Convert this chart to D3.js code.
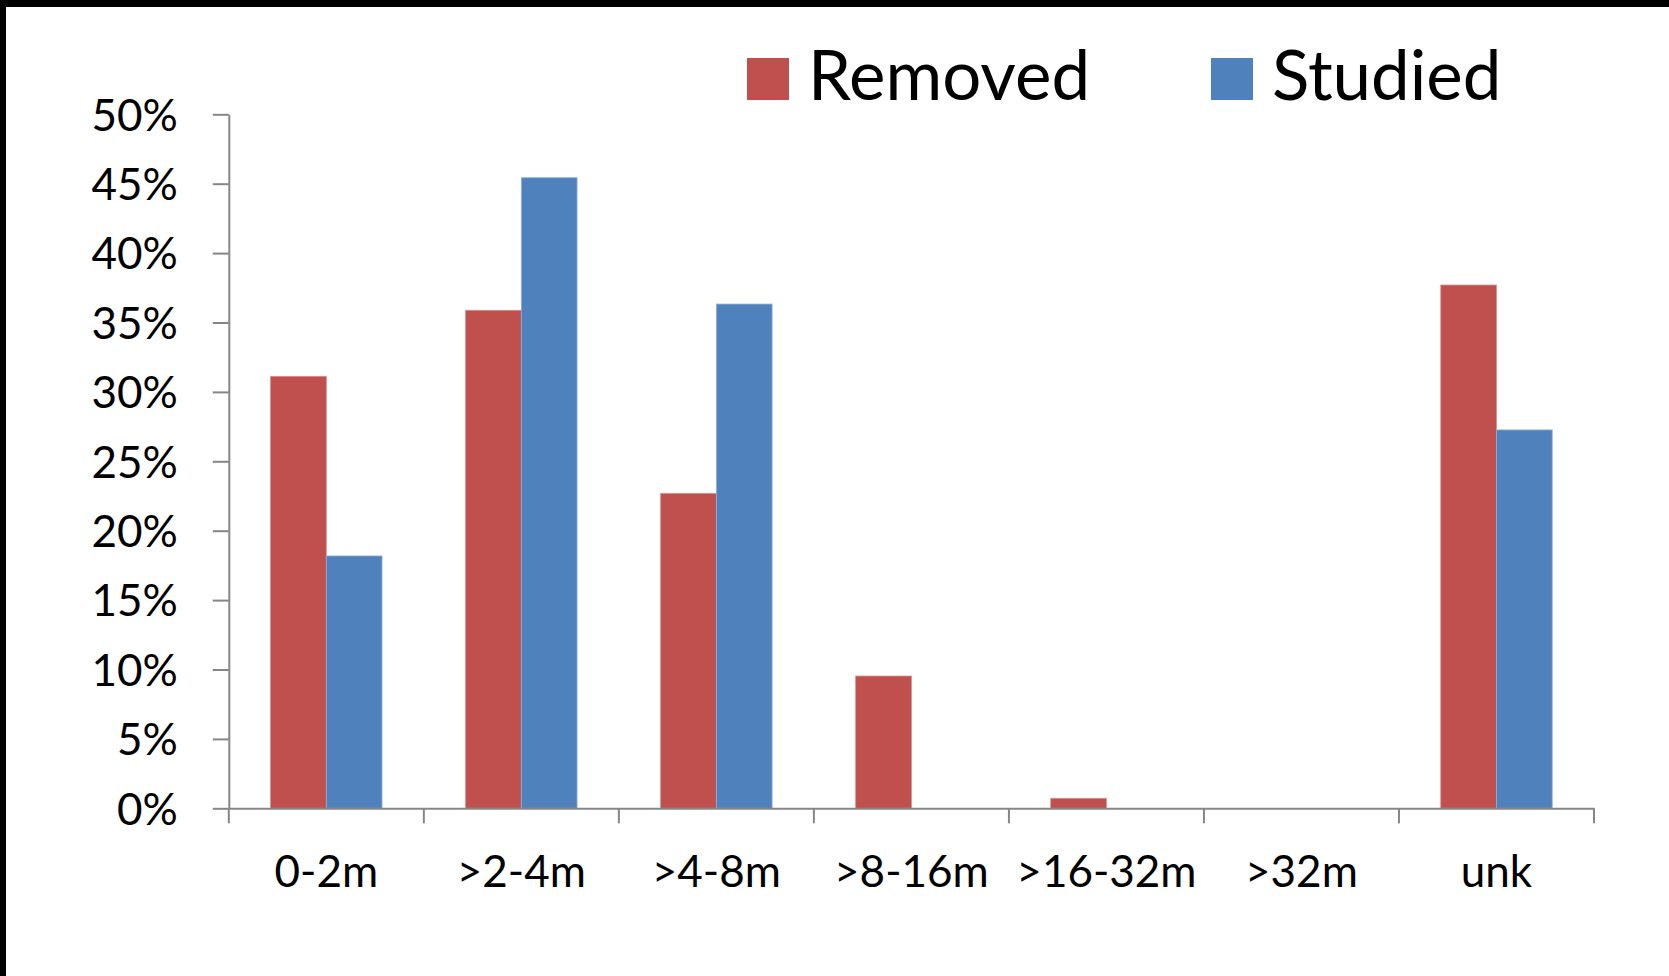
<!DOCTYPE html>
<html>
<head>
<meta charset="utf-8">
<script src="https://cdn.jsdelivr.net/npm/d3@7/dist/d3.min.js"></script>
<style>
  html, body { margin: 0; padding: 0; background: #fff; }
  svg { display: block; }
  svg text { font-family: Lato, "Open Sans", sans-serif; }
</style>
</head>
<body>
<svg id="chart" width="1669" height="976"></svg>
<script>
// Length classes and share of items in each class
const categories = ["0-2m", ">2-4m", ">4-8m", ">8-16m", ">16-32m", ">32m", "unk"];
const seriesNames = ["Removed", "Studied"];
const removed = [0.3112, 0.3588, 0.2269, 0.0953, 0.0072, 0, 0.3770];
const studied = [0.1818, 0.4543, 0.3633, 0, 0, 0, 0.2726];
const yTicks = [0, 0.05, 0.10, 0.15, 0.20, 0.25, 0.30, 0.35, 0.40, 0.45, 0.50];

const colors = { Removed: "#C0504D", Studied: "#4F81BD" };
const edges = { Removed: "#D98E8C", Studied: "#8FB0D8" };
const axisColor = "#868686";
const fontFamily = 'Lato, "Open Sans", sans-serif';

const svg = d3.select("#chart");
const W = 1669, H = 976;

svg.append("rect").attr("width", W).attr("height", H).attr("fill", "#fff");
// frame edges along top and left
svg.append("rect").attr("x", 0).attr("y", 0).attr("width", W).attr("height", 7).attr("fill", "#000");
svg.append("rect").attr("x", 0).attr("y", 0).attr("width", 6).attr("height", H).attr("fill", "#000");

const plot = { left: 228.8, right: 1594, top: 114.3, bottom: 808.3 };

const x = d3.scaleBand().domain(categories).range([plot.left, plot.right]).padding(0);
const xs = d3.scaleBand().domain(seriesNames).range([0, x.bandwidth()])
  .paddingInner(0).paddingOuter(0.75);
const y = d3.scaleLinear().domain([0, 0.5]).range([plot.bottom, plot.top]);

const rows = categories.map((c, i) => ({ cat: c, Removed: removed[i], Studied: studied[i] }));

// bars
const groups = svg.append("g").selectAll("g").data(rows).join("g")
  .attr("transform", d => `translate(${x(d.cat)},0)`);
groups.selectAll("rect")
  .data(d => seriesNames.map(s => ({ s, v: d[s] })).filter(o => o.v > 0))
  .join("rect")
  .attr("x", o => xs(o.s))
  .attr("width", xs.bandwidth())
  .attr("y", o => y(o.v))
  .attr("height", o => y(0) - y(o.v))
  .attr("fill", o => colors[o.s])
  .attr("stroke", o => edges[o.s])
  .attr("stroke-width", 0.8);

// y axis
const yAxis = svg.append("g")
  .attr("transform", `translate(${plot.left},0)`)
  .call(d3.axisLeft(y).tickValues(yTicks).tickSize(16).tickSizeOuter(0)
    .tickPadding(35).tickFormat(d3.format(".0%")))
  .attr("font-family", fontFamily)
  .attr("font-size", 44);
yAxis.select(".domain").attr("stroke", axisColor).attr("stroke-width", 2);
yAxis.selectAll(".tick line").attr("stroke", axisColor).attr("stroke-width", 2);
yAxis.selectAll(".tick text")
  .attr("fill", "#000")
  .attr("dy", "0.36em");

// x axis: baseline, boundary ticks and category labels
const xAxis = svg.append("g")
  .attr("transform", `translate(0,${plot.bottom})`)
  .call(d3.axisBottom(x).tickSize(0).tickSizeOuter(0).tickPadding(0))
  .attr("font-family", fontFamily)
  .attr("font-size", 44);
xAxis.select(".domain").attr("stroke", axisColor).attr("stroke-width", 2);
xAxis.selectAll(".tick text")
  .attr("fill", "#000")
  .attr("y", 79)
  .attr("dy", 0);

const boundaries = categories.map(c => x(c)).concat([x(categories[categories.length - 1]) + x.step()]);
xAxis.selectAll("line.bound").data(boundaries).join("line")
  .attr("class", "bound")
  .attr("x1", d => d).attr("x2", d => d)
  .attr("y1", 0).attr("y2", 15)
  .attr("stroke", axisColor).attr("stroke-width", 2);

// legend
const legendX = { Removed: 747, Studied: 1211 };
const legend = svg.append("g").selectAll("g").data(seriesNames).join("g")
  .attr("transform", s => `translate(${legendX[s]},58)`);
legend.append("rect")
  .attr("width", 42).attr("height", 42)
  .attr("fill", s => colors[s]);
legend.append("text")
  .attr("x", 61).attr("y", 42)
  .style("font-size", "69px")
  .attr("fill", "#000")
  .text(s => s);
</script>
</body>
</html>
